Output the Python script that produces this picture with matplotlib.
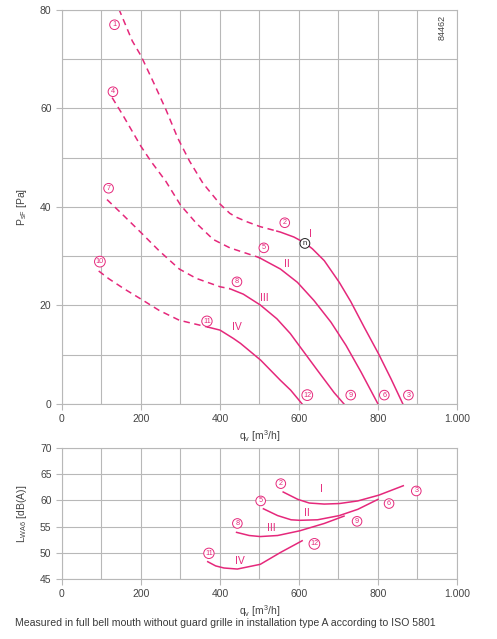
import numpy as np
import matplotlib
matplotlib.use("Agg")
import matplotlib.pyplot as plt
from matplotlib.ticker import MultipleLocator, FuncFormatter

plt.rcParams["font.family"] = ["Liberation Sans", "DejaVu Sans"]
plt.rcParams["mathtext.default"] = "regular"

PINK = "#e5287b"
GRID = "#b8b8b8"
TXT = "#444444"

# ---- pressure curves (qv [m3/h], psF [Pa]); dashed part, then solid part
c1_dash_q = [144, 178, 200, 234, 263, 293, 323, 357, 400, 425, 442, 468, 502, 544]
c1_dash_p = [80.2, 73.7, 70.7, 64.9, 59.8, 54.0, 49.3, 44.8, 40.6, 38.7, 37.9,
             37.0, 36.0, 35.1]
c1_sol_q = [544, 553, 587, 615, 634, 664, 702, 731, 765, 802, 833, 863]
c1_sol_p = [35.1, 34.9, 33.9, 32.7, 31.5, 29.1, 24.7, 20.8, 15.6, 10.1, 5.1, 0.0]

c2_dash_q = [127, 153, 200, 225, 263, 300, 340, 383, 425, 493, 502]
c2_dash_p = [62.2, 58.8, 52.3, 49.3, 45.2, 40.4, 36.7, 33.4, 31.7, 29.9, 29.6]
c2_sol_q = [502, 553, 596, 638, 681, 719, 757, 800]
c2_sol_p = [29.6, 27.4, 24.7, 21.0, 16.6, 11.9, 6.5, 0.0]

c3_dash_q = [114, 153, 200, 246, 297, 340, 400, 425]
c3_dash_p = [41.5, 38.5, 34.8, 31.1, 27.4, 25.5, 23.8, 23.4]
c3_sol_q = [425, 459, 502, 544, 578, 600, 647, 689, 714]
c3_sol_p = [23.4, 22.3, 20.1, 17.3, 14.3, 11.9, 6.8, 2.3, 0.0]

c4_dash_q = [93, 119, 157, 200, 246, 297, 349, 370]
c4_dash_p = [27.0, 25.4, 23.4, 21.3, 19.0, 17.0, 16.0, 15.6]
c4_sol_q = [370, 400, 434, 452, 503, 553, 579, 608]
c4_sol_p = [15.6, 15.0, 13.3, 12.3, 8.9, 4.8, 2.8, 0.0]

# operating point markers (top)
pt_labels = ["1", "2", "3", "4", "5", "6", "7", "8", "9", "10", "11", "12"]
pt_q = [133, 564, 877, 129, 511, 816, 118, 443, 731, 96, 367, 621]
pt_p = [77.0, 36.8, 1.8, 63.4, 31.7, 1.8, 43.8, 24.8, 1.8, 28.9, 16.8, 1.8]
nom_q, nom_p = 615, 32.6

roman = ["I", "II", "III", "IV"]
roman_q = [630, 570, 513, 442]
roman_p = [34.5, 28.4, 21.5, 15.7]

# ---- sound power curves (qv [m3/h], LWA [dB(A)])
s1_q = [560, 597, 626, 664, 702, 749, 802, 864]
s1_l = [61.6, 60.2, 59.5, 59.3, 59.4, 59.9, 61.0, 62.8]
s2_q = [510, 546, 580, 602, 647, 702, 749, 800]
s2_l = [58.4, 57.1, 56.3, 56.2, 56.3, 57.1, 58.3, 60.2]
s3_q = [442, 474, 502, 546, 602, 664, 714]
s3_l = [53.9, 53.3, 53.1, 53.3, 54.2, 55.6, 57.0]
s4_q = [369, 389, 410, 444, 502, 554, 608]
s4_l = [48.3, 47.5, 47.1, 46.9, 47.8, 50.1, 52.3]

spt_labels = ["2", "3", "5", "6", "8", "9", "11", "12"]
spt_q = [554, 897, 503, 828, 444, 747, 372, 639]
spt_l = [63.2, 61.8, 59.9, 59.4, 55.6, 56.0, 49.9, 51.7]
sroman_q = [658, 619, 529, 451]
sroman_l = [62.1, 57.6, 54.7, 48.5]

caption = ("Measured in full bell mouth without guard grille in "
           "installation type A according to ISO 5801")


def thousands(v, pos):
    return "1.000" if v == 1000 else f"{v:.0f}"


def style_axes(ax, xmaj, ymaj, ymin):
    ax.xaxis.set_major_locator(MultipleLocator(xmaj))
    ax.xaxis.set_minor_locator(MultipleLocator(100))
    ax.yaxis.set_major_locator(MultipleLocator(ymaj))
    ax.yaxis.set_minor_locator(MultipleLocator(ymin))
    ax.xaxis.set_major_formatter(FuncFormatter(thousands))
    ax.grid(which="both", color=GRID, linewidth=0.8)
    ax.tick_params(which="major", length=4, color=GRID, labelcolor=TXT,
                   labelsize=7.5, width=0.8)
    ax.tick_params(which="minor", length=0)
    for s in ax.spines.values():
        s.set_color(GRID)
        s.set_linewidth(0.8)
    ax.set_axisbelow(True)


def circ(ax, x, y, s, color=PINK, fc="white", fs=5.2):
    ax.text(x, y, s, color=color, fontsize=fs, ha="center", va="center",
            bbox=dict(boxstyle="circle,pad=0.18", fc=fc, ec=color, lw=0.7),
            zorder=5)


fig = plt.figure(figsize=(4.97, 6.39), dpi=100)
ax1 = fig.add_axes([0.1247, 0.3678, 0.7948, 0.6166])
ax2 = fig.add_axes([0.1247, 0.0939, 0.7948, 0.2050])

# top chart
dash_kw = dict(color=PINK, lw=1.1, dashes=(4.2, 3.0), solid_joinstyle="round")
sol_kw = dict(color=PINK, lw=1.1, solid_joinstyle="round")
for dq, dp, sq, sp in [
    (c1_dash_q, c1_dash_p, c1_sol_q, c1_sol_p),
    (c2_dash_q, c2_dash_p, c2_sol_q, c2_sol_p),
    (c3_dash_q, c3_dash_p, c3_sol_q, c3_sol_p),
    (c4_dash_q, c4_dash_p, c4_sol_q, c4_sol_p),
]:
    ax1.plot(dq, dp, **dash_kw)
    ax1.plot(sq, sp, **sol_kw)

for lab, q, p in zip(pt_labels, pt_q, pt_p):
    circ(ax1, q, p, lab)
circ(ax1, nom_q, nom_p, "n", color="#222222", fs=5.5)
for lab, q, p in zip(roman, roman_q, roman_p):
    ax1.text(q, p, lab, color=PINK, fontsize=7.5, ha="center", va="center")

ax1.text(0.963, 0.955, "84462", rotation=90, fontsize=6.5, color=TXT,
         ha="center", va="center", transform=ax1.transAxes)

ax1.set_xlim(0, 1000)
ax1.set_ylim(0, 80)
style_axes(ax1, 200, 20, 10)
ax1.set_xlabel(r"q$_v$ [m$^3$/h]", fontsize=7.5, color=TXT, labelpad=3)
ax1.set_ylabel(r"P$_{sF}$ [Pa]", fontsize=7.5, color=TXT, labelpad=8)

# bottom chart
for q, l in [(s1_q, s1_l), (s2_q, s2_l), (s3_q, s3_l), (s4_q, s4_l)]:
    ax2.plot(q, l, **sol_kw)
for lab, q, l in zip(spt_labels, spt_q, spt_l):
    circ(ax2, q, l, lab)
for lab, q, l in zip(roman, sroman_q, sroman_l):
    ax2.text(q, l, lab, color=PINK, fontsize=7.5, ha="center", va="center")

ax2.set_xlim(0, 1000)
ax2.set_ylim(45, 70)
style_axes(ax2, 200, 5, 5)
ax2.set_xlabel(r"q$_v$ [m$^3$/h]", fontsize=7.5, color=TXT, labelpad=3)
ax2.set_ylabel(r"L$_{WA6}$ [dB(A)]", fontsize=7.5, color=TXT, labelpad=8)

fig.text(0.03, 0.025, caption, fontsize=7.6, color="#3a3a3a",
         ha="left", va="center")

fig.savefig("out.png", dpi=100)
